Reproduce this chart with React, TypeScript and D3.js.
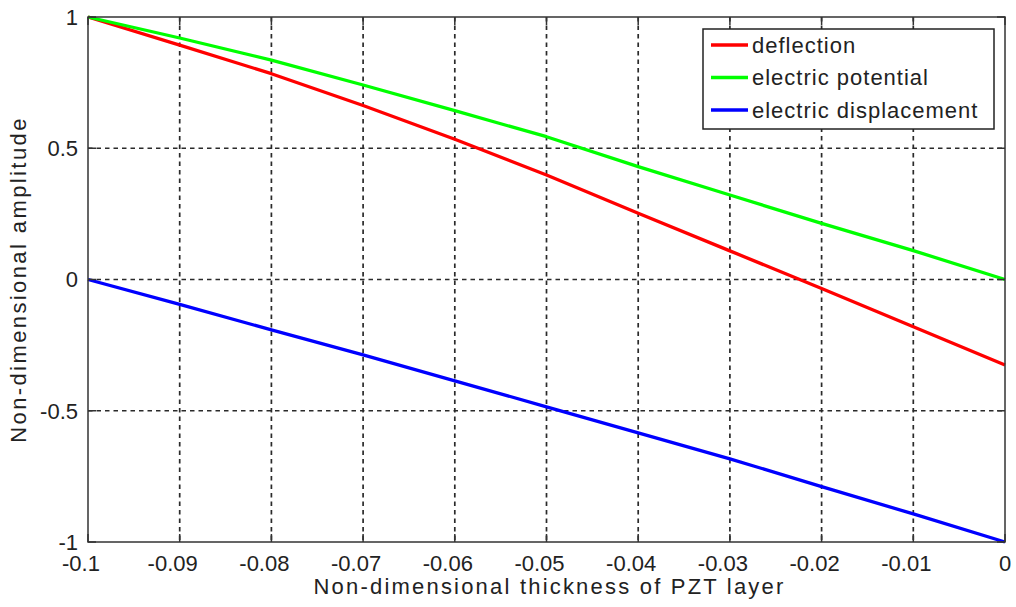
import * as d3 from "d3";
import { useEffect, useRef } from "react";

// non-dimensional thickness of PZT layer
const thickness = [-0.1, -0.09, -0.08, -0.07, -0.06, -0.05, -0.04, -0.03, -0.02, -0.01, 0];
const deflection = [1, 0.893, 0.784, 0.663, 0.534, 0.398, 0.252, 0.109, -0.034, -0.18, -0.326];
const electricPotential = [1, 0.92, 0.836, 0.741, 0.643, 0.544, 0.43, 0.322, 0.214, 0.11, 0];
const electricDisplacement = [0, -0.095, -0.192, -0.287, -0.386, -0.485, -0.584, -0.683, -0.789, -0.893, -1];

const seriesNames = ["deflection", "electric potential", "electric displacement"];
const seriesColors = ["#ff0000", "#00ff00", "#0000ff"];

const xTicks = [-0.1, -0.09, -0.08, -0.07, -0.06, -0.05, -0.04, -0.03, -0.02, -0.01, 0];
const yTicks = [-1, -0.5, 0, 0.5, 1];

const W = 1016, H = 607;
const margin = { left: 88, right: 11, top: 17, bottom: 65 };
const FONT = "'Liberation Sans', Arial, Helvetica, sans-serif";

export default function App() {
    const ref = useRef<SVGSVGElement>(null);

    useEffect(() => {
        drawChart();
    }, []);

    function drawChart() {
        const svg = d3.select(ref.current);
        svg.selectAll("*").remove();

        const x = d3.scaleLinear().domain([-0.1, 0]).range([margin.left, W - margin.right]);
        const y = d3.scaleLinear().domain([-1, 1]).range([H - margin.bottom, margin.top]);
        const x0 = x.range()[0], x1 = x.range()[1];
        const y0 = y.range()[0], y1 = y.range()[1];

        svg.append("rect").attr("width", W).attr("height", H).attr("fill", "white");

        // grid
        const grid = svg.append("g")
            .attr("stroke", "#2a2a2a")
            .attr("stroke-width", 1.7)
            .attr("stroke-dasharray", "4.5,4");
        grid.selectAll("vline").data(xTicks.slice(1, -1)).enter().append("line")
            .attr("x1", d => x(d)).attr("x2", d => x(d))
            .attr("y1", y1).attr("y2", y0);
        grid.selectAll("hline").data(yTicks.slice(1, -1)).enter().append("line")
            .attr("x1", x0).attr("x2", x1)
            .attr("y1", d => y(d)).attr("y2", d => y(d));

        // data lines
        const allSeries = [deflection, electricPotential, electricDisplacement];
        const line = d3.line<number>()
            .x((d, i) => x(thickness[i]))
            .y(d => y(d));
        svg.selectAll("series").data(allSeries).enter().append("path")
            .attr("d", d => line(d))
            .attr("fill", "none")
            .attr("stroke", (d, i) => seriesColors[i])
            .attr("stroke-width", 3.3)
            .attr("stroke-linejoin", "round");

        // box and inward ticks
        const axisColor = "#333";
        svg.append("rect")
            .attr("x", x0).attr("y", y1)
            .attr("width", x1 - x0).attr("height", y0 - y1)
            .attr("fill", "none").attr("stroke", axisColor).attr("stroke-width", 1.5);
        const tickLen = 8;
        const ticks = svg.append("g").attr("stroke", axisColor).attr("stroke-width", 1.5);
        xTicks.forEach(t => {
            ticks.append("line").attr("x1", x(t)).attr("x2", x(t)).attr("y1", y0).attr("y2", y0 - tickLen);
            ticks.append("line").attr("x1", x(t)).attr("x2", x(t)).attr("y1", y1).attr("y2", y1 + tickLen);
        });
        yTicks.forEach(t => {
            ticks.append("line").attr("x1", x0).attr("x2", x0 + tickLen).attr("y1", y(t)).attr("y2", y(t));
            ticks.append("line").attr("x1", x1).attr("x2", x1 - tickLen).attr("y1", y(t)).attr("y2", y(t));
        });

        // tick labels
        svg.selectAll("xlabel").data(xTicks).enter().append("text")
            .attr("x", d => x(d))
            .attr("dx", d => d < 0 ? -7 : 0)
            .attr("y", y0 + 29)
            .attr("text-anchor", "middle")
            .style("font", "22px " + FONT)
            .style("fill", "#222")
            .text(d => String(d));
        svg.selectAll("ylabel").data(yTicks).enter().append("text")
            .attr("x", x0 - 10)
            .attr("y", d => y(d))
            .attr("dy", "0.36em")
            .attr("text-anchor", "end")
            .style("font", "22px " + FONT)
            .style("fill", "#222")
            .text(d => String(d));

        // axis titles
        svg.append("text")
            .attr("x", (x0 + x1) / 2 + 3)
            .attr("y", y0 + 52)
            .attr("text-anchor", "middle")
            .style("font", "22px " + FONT)
            .style("letter-spacing", "2.2px")
            .style("fill", "#222")
            .text("Non-dimensional thickness of PZT layer");
        svg.append("text")
            .attr("transform", "translate(26," + ((y0 + y1) / 2) + ") rotate(-90)")
            .attr("text-anchor", "middle")
            .style("font", "22px " + FONT)
            .style("letter-spacing", "2.4px")
            .style("fill", "#222")
            .text("Non-dimensional amplitude");

        // legend
        const legend = svg.append("g").attr("transform", "translate(703,29)");
        legend.append("rect")
            .attr("width", 291).attr("height", 100)
            .attr("fill", "white").attr("stroke", "#222").attr("stroke-width", 1.5);
        seriesNames.forEach((name, i) => {
            const ly = 16 + i * 32.5;
            legend.append("line")
                .attr("x1", 8).attr("x2", 45).attr("y1", ly).attr("y2", ly)
                .attr("stroke", seriesColors[i]).attr("stroke-width", 3.3);
            legend.append("text")
                .attr("x", 49).attr("y", ly).attr("dy", "0.36em")
                .style("font", "22px " + FONT)
                .style("letter-spacing", "1px")
                .style("fill", "#222")
                .text(name);
        });
    }

    return (
        <svg ref={ref} width={W} height={H} style={{ position: "absolute", left: 0, top: 0 }}></svg>
    );
}
